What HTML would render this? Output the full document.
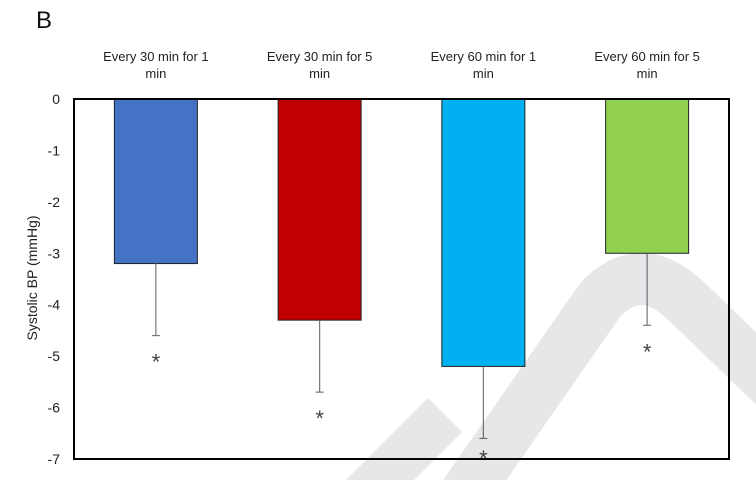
<!DOCTYPE html>
<html><head><meta charset="utf-8"><style>
html,body{margin:0;padding:0;background:#fff;overflow:hidden;}
svg{display:block;font-family:"Liberation Sans",Arial,sans-serif;}
</style></head><body>
<svg id="chart" width="756" height="480" viewBox="0 0 756 480" xmlns="http://www.w3.org/2000/svg">
<text x="36" y="28" font-size="24" fill="#111">B</text>
<text transform="translate(37,278) rotate(-90)" text-anchor="middle" font-size="14" fill="#222">Systolic BP (mmHg)</text>
<g id="yticks"></g>
<g id="xlabels"></g>
<g id="bars"></g>
<rect x="74" y="99" width="655" height="360" fill="none" stroke="#000" stroke-width="2"/>
<g id="errs"></g>
<g fill="none" stroke="rgba(40,40,60,0.11)" stroke-linejoin="round" stroke-linecap="butt">
<path d="M 440 530 L 600 300 Q 640 258 685 300 L 820 430" stroke-width="52"/>
<path d="M 445 415 L 350 510" stroke-width="48"/>
</g>
</svg>
<script>
const categories=["Every 30 min for 1|min","Every 30 min for 5|min","Every 60 min for 1|min","Every 60 min for 5|min"];
const values=[-3.2,-4.3,-5.2,-3.0];
const errLow=[-4.6,-5.7,-6.6,-4.4];
const colors=["#4472c4","#c00000","#00b0f0","#92d050"];
const yTicks=[0,-1,-2,-3,-4,-5,-6,-7];
const NS="http://www.w3.org/2000/svg";
const TOP=99,BOTTOM=459,LEFT=74,RIGHT=729,YMIN=-7;
function y(v){return TOP+(v/YMIN)*(BOTTOM-TOP);}
const band=(RIGHT-LEFT)/categories.length;
function xc(i){return LEFT+band*(i+0.5);}
function mk(tag,attrs,parent){const e=document.createElementNS(NS,tag);for(const k in attrs)e.setAttribute(k,attrs[k]);parent.appendChild(e);return e;}
const yg=document.getElementById('yticks');
yTicks.forEach(t=>{const e=mk('text',{x:60,y:y(t)+5,'text-anchor':'end','font-size':14,fill:'#222'},yg);


e.textContent=t;});
const xg=document.getElementById('xlabels');
categories.forEach((c,i)=>{c.split('|').forEach((ln,j)=>{const e=mk('text',{x:xc(i),y:61+j*17,'text-anchor':'middle','font-size':13,fill:'#222'},xg);


e.textContent=ln;});});
const bg=document.getElementById('bars'),eg=document.getElementById('errs');
const bw=83;
values.forEach((v,i)=>{const r=mk('rect',{x:xc(i)-bw/2,y:y(0),width:bw,height:y(v)-y(0),fill:colors[i],stroke:'#222','stroke-width':1},bg);


const l=mk('line',{x1:xc(i),x2:xc(i),y1:y(v),y2:y(errLow[i]),stroke:'#777','stroke-width':1.2},eg);


const c=mk('line',{x1:xc(i)-4,x2:xc(i)+4,y1:y(errLow[i]),y2:y(errLow[i]),stroke:'#777','stroke-width':1.2},eg);


const s=mk('text',{x:xc(i),y:Math.min(y(errLow[i])+34,466),'text-anchor':'middle','font-size':22,fill:'#444'},eg);


s.textContent='*';});
</script>
</body></html>
